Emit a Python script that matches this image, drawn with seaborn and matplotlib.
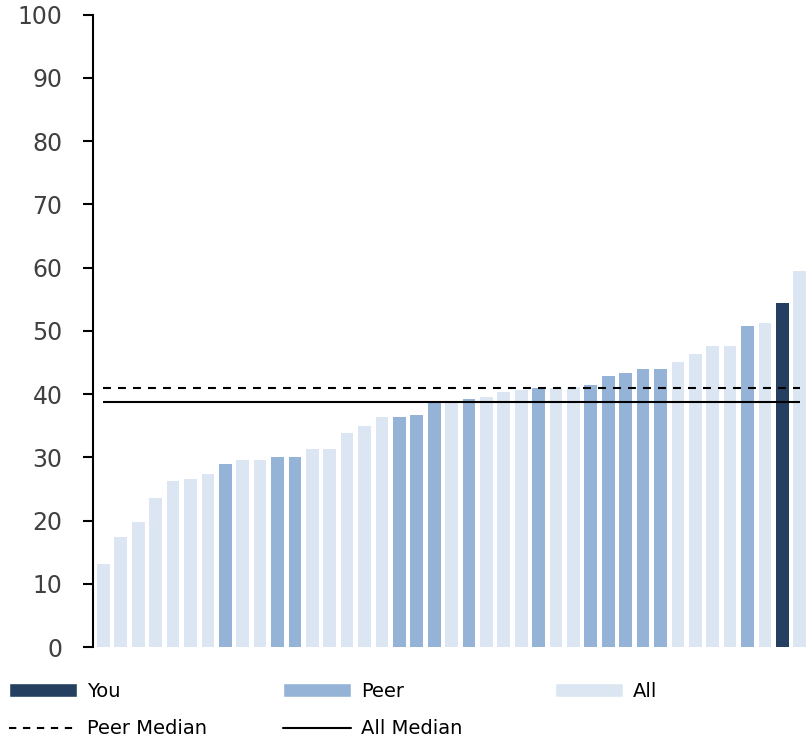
import numpy as np
import pandas as pd
import matplotlib
matplotlib.use("Agg")
import matplotlib.pyplot as plt
import seaborn as sns
from matplotlib.patches import Patch
from matplotlib.lines import Line2D

# Scores, sorted ascending, and the group each bar belongs to
values = [13.2, 17.4, 19.7, 23.6, 26.2, 26.5, 27.3, 29.0, 29.5, 29.5,
          30.1, 30.1, 31.3, 31.3, 33.8, 34.9, 36.3, 36.3, 36.7, 38.8,
          38.8, 39.2, 39.5, 40.3, 40.6, 40.9, 40.9, 41.1, 41.4, 42.8,
          43.4, 43.9, 43.9, 45.1, 46.3, 47.6, 47.6, 50.7, 51.3, 54.4,
          59.5]
groups = ["All", "All", "All", "All", "All", "All", "All", "Peer", "All", "All",
          "Peer", "Peer", "All", "All", "All", "All", "All", "Peer", "Peer", "Peer",
          "All", "Peer", "All", "All", "All", "Peer", "All", "All", "Peer", "Peer",
          "Peer", "Peer", "Peer", "All", "All", "All", "All", "Peer", "All", "You",
          "All"]
y_ticks = [0, 10, 20, 30, 40, 50, 60, 70, 80, 90, 100]

colors = {"You": "#243F60", "Peer": "#95B3D7", "All": "#DCE6F2"}

df = pd.DataFrame({"pos": np.arange(len(values)), "value": values, "group": groups})

all_median = float(np.median(df["value"]))
peer_median = float(np.median(df.loc[df["group"].isin(["Peer", "You"]), "value"]))

sns.set_theme(style="white")
plt.rcParams["font.family"] = ["DejaVu Sans"]

fig = plt.figure(figsize=(8.07, 7.38), dpi=100)
ax = fig.add_axes([0.1152, 0.1233, 0.8838, 0.8570])

sns.barplot(data=df, x="pos", y="value", hue="group", palette=colors,
            dodge=False, width=0.73, legend=False, ax=ax, saturation=1,
            linewidth=0)

n = len(values)
ax.hlines(peer_median, 0, n - 1, colors="black", linewidth=1.5,
          linestyles=(0, (3.8, 3.4)))
ax.hlines(all_median, 0, n - 1, colors="black", linewidth=1.5)

ax.set_xlim(-0.6, n - 1 + 0.37)
ax.set_ylim(0, 100)
ax.set_yticks(y_ticks)
ax.set_xticks([])
ax.set_xlabel("")
ax.set_ylabel("")
for side in ["top", "right", "bottom"]:
    ax.spines[side].set_visible(False)
ax.spines["left"].set_linewidth(1.5)
ax.spines["left"].set_color("black")
ax.tick_params(axis="y", left=True, length=7, width=1.5, pad=15,
               labelsize=17, labelcolor="#404040", color="black")

# Legend: three columns placed side by side under the plot
leg_kw = dict(loc="upper left", frameon=False, fontsize=14, borderpad=0,
              borderaxespad=0, handlelength=3.5, handleheight=0.7,
              handletextpad=0.5, labelspacing=0.95, labelcolor="black")
col1 = [Patch(facecolor=colors["You"]),
        Line2D([0], [0], color="black", linewidth=1.5, linestyle=(0, (3.5, 3.2)))]
col2 = [Patch(facecolor=colors["Peer"]),
        Line2D([0], [0], color="black", linewidth=1.5)]
col3 = [Patch(facecolor=colors["All"])]

W, H = 807, 738
top = 1 - 682 / H
l1 = fig.legend(col1, ["You", "Peer Median"], bbox_to_anchor=(9 / W, top), **leg_kw)
l2 = fig.legend(col2, ["Peer", "All Median"], bbox_to_anchor=(283 / W, top), **leg_kw)
l3 = fig.legend(col3, ["All"], bbox_to_anchor=(555 / W, top), **leg_kw)

fig.savefig("out.png", dpi=100)
